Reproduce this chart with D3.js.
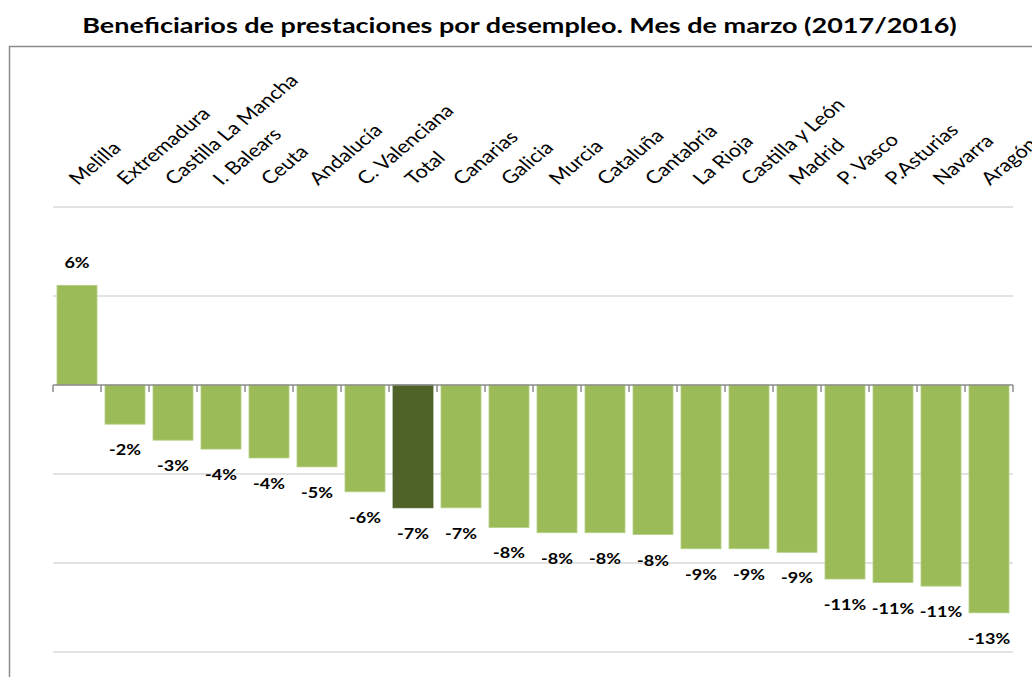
<!DOCTYPE html>
<html>
<head>
<meta charset="utf-8">
<script src="https://cdn.jsdelivr.net/npm/d3@7"></script>
<style>
  body { margin: 0; background: #fff; }
  svg { display: block; font-family: Lato, "Open Sans", sans-serif; }
</style>
</head>
<body>
<div class="chart-container"></div>
<script>
const width = 1032;
const height = 677;
const estiramiento = 1.2; // el original esta algo estirado en horizontal

// datos (variacion % marzo 2017 / marzo 2016)
const regiones = ["Melilla", "Extremadura", "Castilla La Mancha", "I. Balears", "Ceuta",
                  "Andalucía", "C. Valenciana", "Total", "Canarias", "Galicia", "Murcia",
                  "Cataluña", "Cantabria", "La Rioja", "Castilla y León", "Madrid",
                  "P. Vasco", "P.Asturias", "Navarra", "Aragón"];
const variacion = [5.6, -2.2, -3.1, -3.6, -4.1, -4.6, -6.0, -6.9, -6.9, -8.0, -8.3,
                   -8.3, -8.4, -9.2, -9.2, -9.4, -10.9, -11.1, -11.3, -12.8];
const lineasGuia = [10, 5, -5, -10, -15];

const datos = regiones.map((r, i) => ({ region: r, valor: variacion[i] }));

const plot = { left: 53, right: 1013, top: 207, bottom: 652 };

const svg = d3.select(".chart-container")
              .append("svg")
              .attr("width", width)
              .attr("height", height);

// marco del area del grafico
svg.append("path")
   .attr("d", `M9.5,${height} L9.5,46.5 L${width},46.5`)
   .attr("fill", "none")
   .attr("stroke", "#8c8c8c")
   .attr("stroke-width", 1.5);

const titulo = svg.append("text")
   .attr("text-anchor", "middle")
   .attr("font-size", 21)
   .attr("font-weight", "bold")
   .attr("fill", "#000")
   .text("Beneficiarios de prestaciones por desempleo. Mes de marzo (2017/2016)");
const anchoTitulo = titulo.node().getComputedTextLength();
titulo.attr("transform", `translate(519.5, 33) scale(${875 / anchoTitulo}, 1)`);

const escalaX = d3.scaleBand()
                  .domain(regiones)
                  .range([plot.left, plot.right])
                  .paddingInner(8 / 48)
                  .paddingOuter(4 / 48);

const escalaY = d3.scaleLinear()
                  .domain([-15, 10])
                  .range([plot.bottom, plot.top]);

// lineas de division
svg.append("g")
   .selectAll("line")
   .data(lineasGuia)
   .join("line")
   .attr("x1", plot.left)
   .attr("x2", plot.right)
   .attr("y1", (d) => escalaY(d))
   .attr("y2", (d) => escalaY(d))
   .attr("stroke", "#d9d9d9")
   .attr("stroke-width", 1.5);

// barras
svg.append("g")
   .selectAll("rect")
   .data(datos)
   .join("rect")
   .attr("x", (d) => escalaX(d.region))
   .attr("width", escalaX.bandwidth())
   .attr("y", (d) => escalaY(Math.max(0, d.valor)))
   .attr("height", (d) => Math.abs(escalaY(d.valor) - escalaY(0)))
   .attr("fill", (d) => d.region === "Total" ? "#4f6228" : "#9bbb59")
   .attr("stroke", (d) => d.region === "Total" ? "#4f6228" : "#b5cf85")
   .attr("stroke-width", 0.8);

// eje horizontal en el cero con marcas entre categorias
const paso = (plot.right - plot.left) / regiones.length;
const marcas = d3.range(regiones.length + 1).map((i) => plot.left + i * paso);

const eje = svg.append("g").attr("stroke", "#8c8c8c").attr("stroke-width", 1.5);
eje.append("line")
   .attr("x1", plot.left)
   .attr("x2", plot.right)
   .attr("y1", escalaY(0))
   .attr("y2", escalaY(0));
eje.selectAll("line.marca")
   .data(marcas)
   .join("line")
   .attr("class", "marca")
   .attr("x1", (d) => d)
   .attr("x2", (d) => d)
   .attr("y1", escalaY(0))
   .attr("y2", escalaY(0) + 7);

// etiquetas de datos
svg.append("g")
   .selectAll("text")
   .data(datos)
   .join("text")
   .attr("transform", (d) => {
       const x = escalaX(d.region) + escalaX.bandwidth() / 2;
       const y = d.valor >= 0 ? escalaY(d.valor) - 17 : escalaY(d.valor) + 31;
       return `translate(${x}, ${y}) scale(${estiramiento}, 1)`;
   })
   .attr("text-anchor", "middle")
   .attr("font-size", 15)
   .attr("font-weight", "bold")
   .attr("fill", "#000")
   .text((d) => Math.round(d.valor).toString().replace("\u2212", "-") + "%");

// nombres de las regiones, arriba y girados
svg.append("g")
   .selectAll("text")
   .data(regiones)
   .join("text")
   .attr("transform", (d) => `translate(${escalaX(d) + escalaX.bandwidth() / 2 + 1}, 186) scale(${estiramiento}, 1) rotate(-45)`)
   .attr("text-anchor", "start")
   .attr("font-size", 18)
   .attr("fill", "#000")
   .text((d) => d);
</script>
</body>
</html>
